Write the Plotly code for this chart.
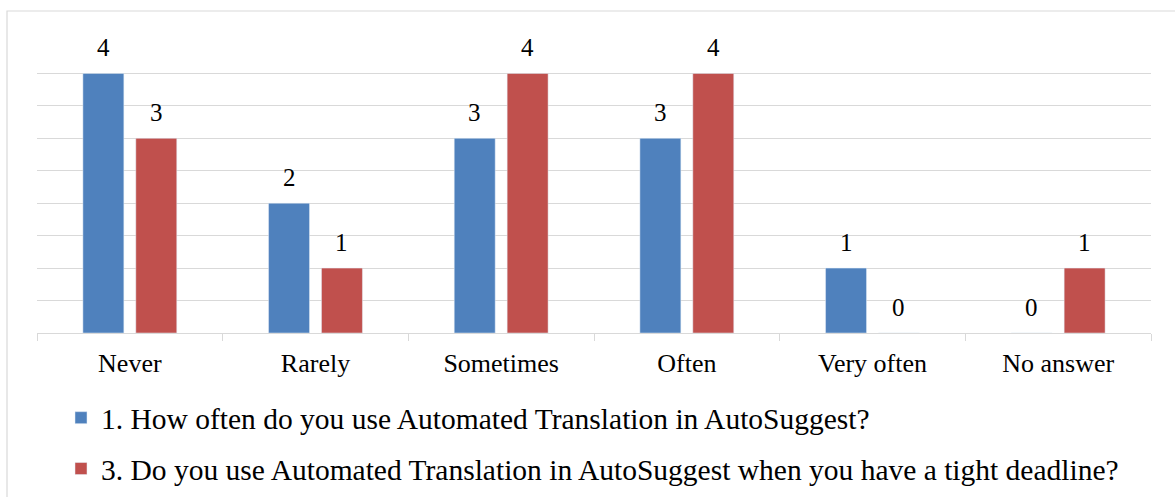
import plotly.graph_objects as go

# Survey responses per frequency category
categories = ["Never", "Rarely", "Sometimes", "Often", "Very often", "No answer"]
q1_name = "1. How often do you use Automated Translation in AutoSuggest?"
q3_name = "3. Do you use Automated Translation in AutoSuggest when you have a tight deadline?"
q1_values = [4, 2, 3, 3, 1, 0]
q3_values = [3, 1, 4, 4, 0, 1]

BLUE = "#4f81bd"
RED = "#c0504d"
GRID = "#d9d9d9"
FONT = "Liberation Serif"

W, H = 1175, 497
L, R, T, B = 37, 24, 41, 164
plot_w = W - L - R
plot_h = H - T - B
BARGAP = 0.43

fig = go.Figure()
fig.add_trace(go.Bar(x=categories, y=q1_values, name=q1_name, marker_color=BLUE,
                     legendgroup="q1"))
fig.add_trace(go.Bar(x=categories, y=q3_values, name=q3_name, marker_color=RED,
                     legendgroup="q3"))

# Value labels above each bar, offset to the bar's slot within the group
slot_px = plot_w / len(categories) * (1 - BARGAP) / 2
for vals, sign in ((q1_values, -1), (q3_values, 1)):
    for cat, v in zip(categories, vals):
        fig.add_annotation(x=cat, y=v, text=str(v), showarrow=False,
                           xshift=sign * slot_px / 2, yshift=10, yanchor="bottom",
                           font=dict(family=FONT, size=25, color="black"))

# Outer frame (top and left edges visible)
fig.add_shape(type="rect", xref="paper", yref="paper",
              x0=(7 - L) / plot_w, x1=(W + 5 - L) / plot_w,
              y0=(T + plot_h - (H + 5)) / plot_h, y1=(T + plot_h - 11) / plot_h,
              line=dict(color=GRID, width=1.2), fillcolor="rgba(0,0,0,0)", layer="below")

fig.update_layout(
    width=W, height=H,
    margin=dict(l=L, r=R, t=T, b=B, autoexpand=False),
    paper_bgcolor="white", plot_bgcolor="white",
    barmode="group", bargap=BARGAP, bargroupgap=0.226,
    font=dict(family=FONT, size=26, color="black"),
    showlegend=True,
    legend=dict(orientation="v", xref="container", yref="container",
                x=61 / W, xanchor="left", y=1 - 392 / H, yanchor="top",
                font=dict(family=FONT, size=29.5, color="black"),
                tracegroupgap=9.5, bgcolor="rgba(0,0,0,0)"),
)
fig.update_xaxes(showline=True, linecolor=GRID, linewidth=1.2, automargin=False,
                 ticks="outside", tickson="boundaries", ticklen=7, tickcolor=GRID,
                 tickwidth=1.2, ticklabelstandoff=7, showgrid=False,
                 tickfont=dict(family=FONT, size=26, color="black"))
fig.update_yaxes(range=[0, 4.5], dtick=0.5, showticklabels=False, showgrid=True,
                 gridcolor=GRID, gridwidth=1.2, zeroline=False, showline=False,
                 automargin=False)

fig.write_html("out.html")
